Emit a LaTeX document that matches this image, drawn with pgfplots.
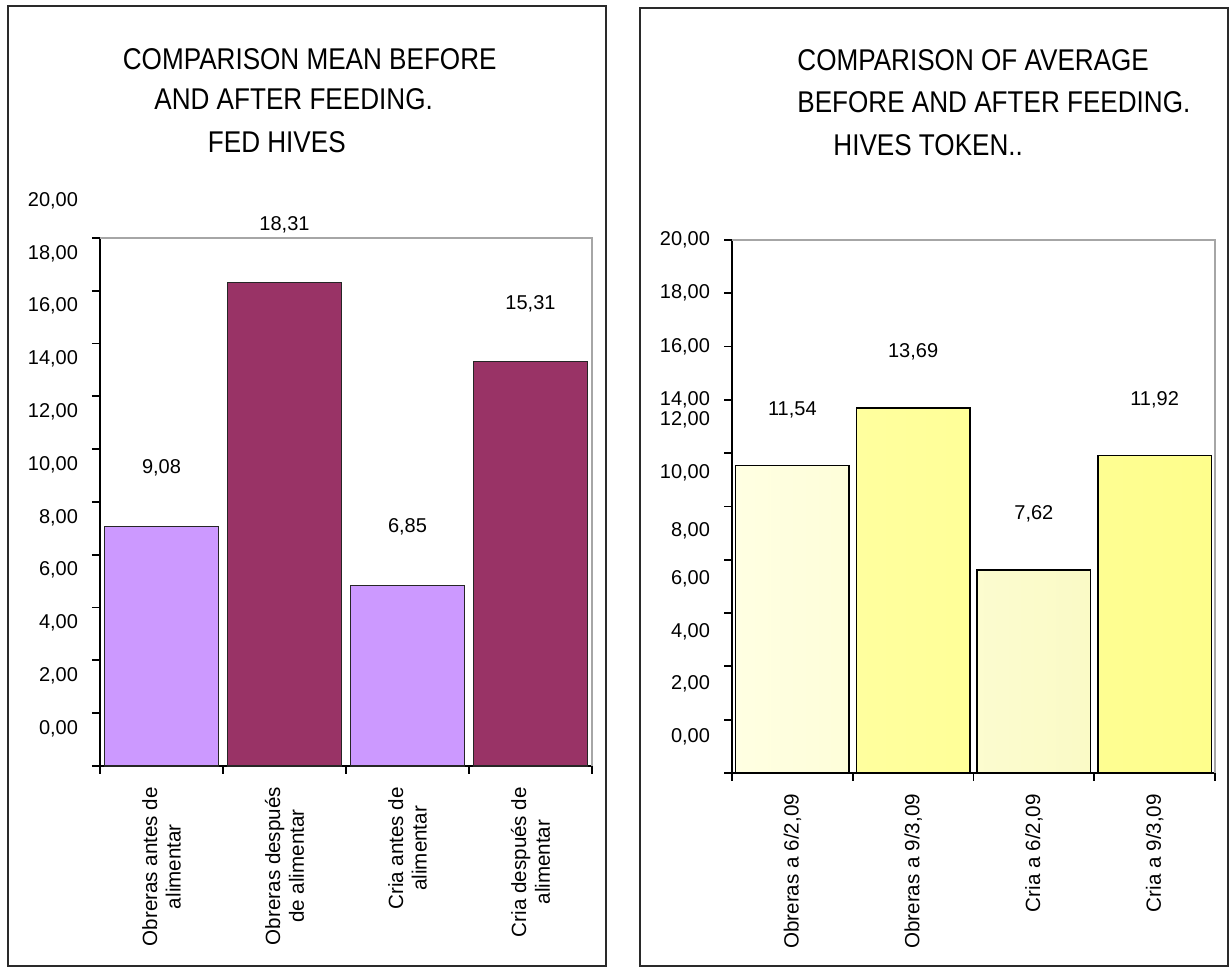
\documentclass[border=0pt]{standalone}
\usepackage{fontspec}
\setmainfont{Liberation Sans}
\usepackage{graphicx}
\usepackage{pgfplots}
\pgfplotsset{compat=1.18}

\definecolor{lavender}{HTML}{CC99FF}
\definecolor{plum}{HTML}{993366}
\definecolor{paleA}{HTML}{FFFFE2}
\definecolor{paleB}{HTML}{FAFAC6}
\definecolor{lemonA}{HTML}{FFFF9E}
\definecolor{lemonB}{HTML}{FEFE8C}
\definecolor{frame}{HTML}{2A2A2A}

% title lines are set slightly condensed
\newcommand\ttl[1]{\scalebox{0.87}[1]{\fontsize{15}{18}\selectfont #1}}

\pgfplotsset{
  hivebars/.style={
    scale only axis,
    xmin=0.5, xmax=4.5, ymin=0, ymax=20,
    axis x line*=bottom, axis y line*=left,
    axis line style={-, line width=1.2pt, black},
    xtick={1,2,3,4},
    minor xtick={0.5,1.5,2.5,3.5,4.5},
    minor ytick={0,2,4,6,8,10,12,14,16,18,20},
    major tick length=0pt, minor tick length=4pt, tick align=outside,
    minor tick style={line width=0.9pt, black},
    clip=false,
    yticklabel style={xshift=-7.5pt, font=\fontsize{10}{11}\selectfont},
    xticklabel style={yshift=-7pt, rotate=90, anchor=east, align=center,
      font=\fontsize{10.3}{11.8}\selectfont},
    nodes near coords,
    every node near coord/.append style={anchor=center, text=black,
      font=\fontsize{10}{12}\selectfont},
    /pgf/number format/.cd, fixed, fixed zerofill, precision=2, use comma,
      assume math mode=true,
  },
}

\begin{document}
\begin{tikzpicture}
\useasboundingbox (0,0) rectangle (615pt,483.5pt);
\draw[frame, line width=1pt] (4pt,0.5pt) rectangle (303pt,480.5pt);
\draw[frame, line width=1pt] (320pt,0.5pt) rectangle (614pt,479.5pt);

% titles
\node[anchor=west, inner sep=0pt] at (61.25pt,454pt) {\ttl{COMPARISON MEAN BEFORE}};
\node[anchor=west, inner sep=0pt] at (77pt,434pt) {\ttl{AND AFTER FEEDING.}};
\node[anchor=west, inner sep=0pt] at (103.75pt,412.5pt) {\ttl{FED HIVES}};
\node[anchor=west, inner sep=0pt] at (398.5pt,453.5pt) {\ttl{COMPARISON OF AVERAGE}};
\node[anchor=west, inner sep=0pt] at (398.5pt,432.5pt) {\ttl{BEFORE AND AFTER FEEDING.}};
\node[anchor=west, inner sep=0pt] at (416.5pt,411pt) {\ttl{HIVES TOKEN..}};

% fed hives
\begin{axis}[hivebars,
  at={(50pt,100.5pt)}, anchor=south west, width=246pt, height=264pt,
  ytick={0,2,4,6,8,10,12,14,16,18,20},
  yticklabels={{0,00},{2,00},{4,00},{6,00},{8,00},{10,00},{12,00},{14,00},{16,00},{18,00},{20,00}},
  yticklabel style={yshift=18.7pt},
  xticklabels={{Obreras antes de\\alimentar},{Obreras después\\de alimentar},
    {Cria antes de\\alimentar},{Cria después de\\alimentar}},
  every node near coord/.append style={yshift=29pt},
]
\addplot[ybar, bar shift=0pt, bar width=0.93, fill=lavender, draw=black!85, line width=0.6pt]
  coordinates {(1,9.08) (3,6.85)};
\addplot[ybar, bar shift=0pt, bar width=0.93, fill=plum, draw=black!85, line width=0.6pt]
  coordinates {(2,18.31) (4,15.31)};
\draw[gray!70, line width=0.8pt] (rel axis cs:0,1) -- (rel axis cs:1,1) -- (rel axis cs:1,0);
\end{axis}

% token hives
\begin{axis}[hivebars,
  at={(366pt,97pt)}, anchor=south west, width=241.5pt, height=266.5pt,
  ytick={1.34,3.34,5.31,7.28,9.09,11.28,13.26,14,16,18,20},
  yticklabels={{0,00},{2,00},{4,00},{6,00},{8,00},{10,00},{12,00},{14,00},{16,00},{18,00},{20,00}},
  xticklabels={{Obreras a 6/2,09},{Obreras a 9/3,09},{Cria a 6/2,09},{Cria a 9/3,09}},
  every node near coord/.append style={yshift=28pt},
]
\addplot[ybar, bar shift=0pt, bar width=0.94, left color=paleA, right color=paleB, draw=black, line width=0.8pt]
  coordinates {(1,11.54) (3,7.62)};
\addplot[ybar, bar shift=0pt, bar width=0.94, left color=lemonA, right color=lemonB, draw=black, line width=0.8pt]
  coordinates {(2,13.69) (4,11.92)};
\draw[gray!70, line width=0.8pt] (rel axis cs:0,1) -- (rel axis cs:1,1) -- (rel axis cs:1,0);
\end{axis}
\end{tikzpicture}
\end{document}
